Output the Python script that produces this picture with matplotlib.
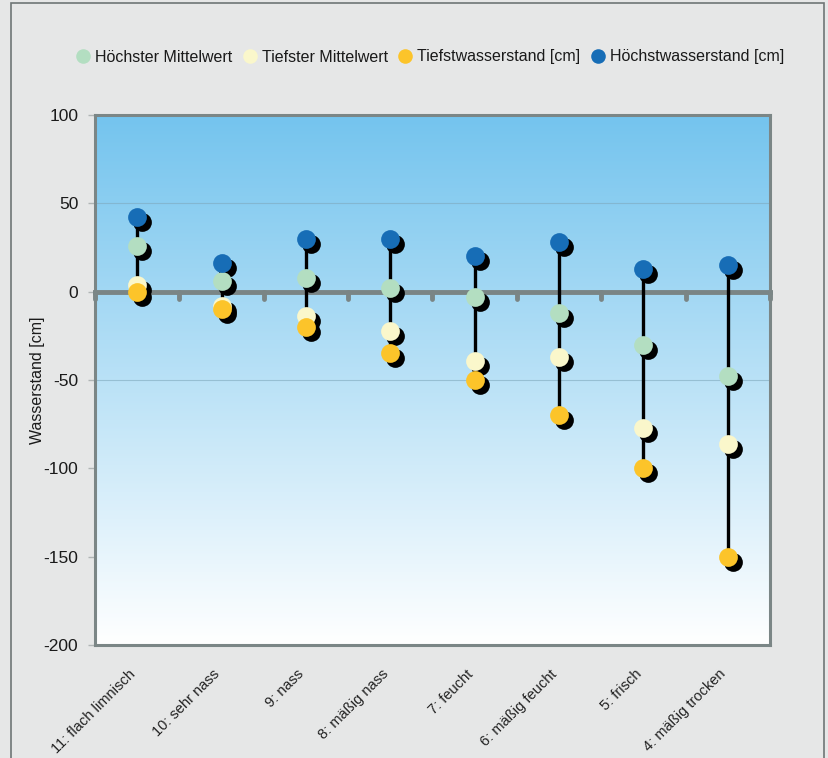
import numpy as np
import matplotlib
matplotlib.use("Agg")
import matplotlib.pyplot as plt
from matplotlib import transforms as mtrans
from matplotlib.lines import Line2D
from matplotlib.patches import Rectangle
from matplotlib.colors import LinearSegmentedColormap

plt.rcParams['font.family'] = ['Liberation Sans', 'DejaVu Sans']

categories = ["11: flach limnisch", "10: sehr nass", "9: nass", "8: mäßig nass",
              "7: feucht", "6: mäßig feucht", "5: frisch", "4: mäßig trocken"]
hoechst = [42, 16, 30, 30, 20, 28, 13, 15]          # Höchstwasserstand [cm]
mittel_hoch = [26, 6, 8, 2, -3, -12, -30, -48]      # Höchster Mittelwert
mittel_tief = [4, -8, -14, -22, -39, -37, -77, -86] # Tiefster Mittelwert
tiefst = [0, -10, -20, -35, -50, -70, -100, -150]   # Tiefstwasserstand [cm]
yticks = [100, 50, 0, -50, -100, -150, -200]

series = [
    ("Höchster Mittelwert", mittel_hoch, "#b3dec1"),
    ("Tiefster Mittelwert", mittel_tief, "#faf7cb"),
    ("Tiefstwasserstand [cm]", tiefst, "#fcc42a"),
    ("Höchstwasserstand [cm]", hoechst, "#176db6"),
]

W, H = 829, 758
fig = plt.figure(figsize=(W / 100, H / 100), dpi=100)
fig.patch.set_facecolor("#e6e7e7")
fig.add_artist(Rectangle((11 / W, -0.01), (824 - 11) / W, 1 - 3 / H + 0.01,
                         transform=fig.transFigure, fill=False,
                         edgecolor="#6f7575", lw=1.2))

ax = fig.add_axes([95 / W, 1 - 645 / H, (770 - 95) / W, (645 - 115) / H])
ax.set_xlim(0, 8)
ax.set_ylim(-200, 100)

cmap = LinearSegmentedColormap.from_list("bg", ["#ffffff", "#74c4ee"])
grad = np.linspace(0, 1, 256).reshape(-1, 1)
ax.imshow(grad, extent=[0, 8, -200, 100], origin="lower", aspect="auto",
          cmap=cmap, zorder=0)

for g in [50, -50]:
    ax.axhline(g, color="#7fa9bd", lw=0.8, alpha=0.6, zorder=1)

ax.axhline(0, color="#7a8585", lw=3.5, zorder=2, clip_on=False)
ax.vlines(np.arange(0, 9), 0, -4, color="#7a8585", lw=3.5, zorder=2,
          capstyle="round", clip_on=False)

x = np.arange(len(categories)) + 0.5
ax.vlines(x, tiefst, hoechst, color="black", lw=2.4, zorder=3)

shadow = mtrans.offset_copy(ax.transData, fig=fig, x=5, y=-5, units="dots")
ms = 13.5
for name, vals, col in series:
    ax.plot(x, vals, "o", ms=ms, color="black", mec="none", transform=shadow,
            zorder=4, clip_on=False)
for name, vals, col in series:
    ax.plot(x, vals, "o", ms=ms, color=col, mec="none", zorder=5, clip_on=False)

for s in ax.spines.values():
    s.set_color("#7b8686")
    s.set_linewidth(2.2)

ax.set_yticks(yticks)
ax.set_yticklabels([str(v) for v in yticks], fontsize=12.5, color="#1a1a1a")
ax.tick_params(axis="y", length=5, color="#b0b5b5", width=1, pad=7)
ax.set_xticks([])
ax.set_ylabel("Wasserstand [cm]", fontsize=11.5, color="#1a1a1a")
ax.yaxis.set_label_coords(-0.074, 0.5)

# category labels: rotated, right end just left of each category
lab_tr = mtrans.offset_copy(ax.get_xaxis_transform(), fig=fig, x=-9, y=-22,
                            units="dots")
for xi, lab in zip(x, categories):
    ax.text(xi, 0, lab, transform=lab_tr, rotation=45, rotation_mode="anchor",
            ha="right", va="top", fontsize=10.5, color="#222222")

handles = [Line2D([], [], marker="o", ls="none", ms=10.5, color=c, mec="none")
           for _, _, c in series]
fig.legend(handles, [n for n, _, _ in series], loc="center",
           bbox_to_anchor=(430 / W, 1 - 57 / H), ncol=4, frameon=False,
           fontsize=11.5, handlelength=0.9, handletextpad=0.3,
           columnspacing=0.65, labelcolor="#1a1a1a")

fig.savefig("out.png", dpi=100, facecolor=fig.get_facecolor())
